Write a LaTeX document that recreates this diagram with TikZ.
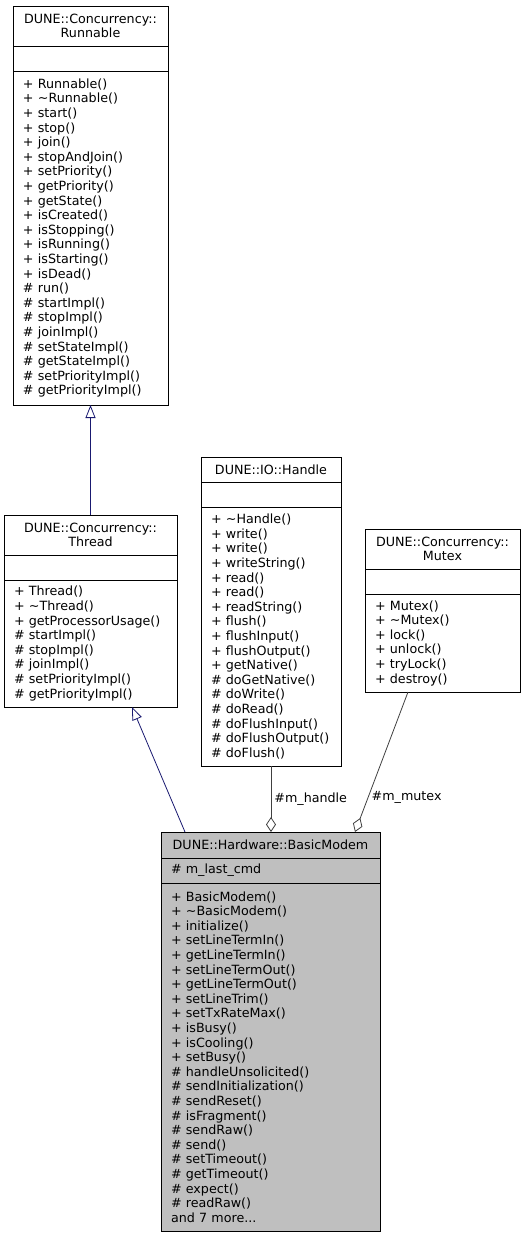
\documentclass[tikz,border=0pt]{standalone}
\usepackage{fontspec}
\setmainfont{DejaVu Sans}
\usetikzlibrary{arrows.meta,calc,positioning}
\definecolor{edgegray}{HTML}{404040}
\definecolor{inheritblue}{HTML}{191970}
\definecolor{modemgray}{HTML}{BFBFBF}

\begin{document}
\begin{tikzpicture}[x=1pt, y=-1pt, font=\fontsize{12.7}{14.6}\selectfont]
    \useasboundingbox (0,0) rectangle (524,1237);
    \tikzset{ClassBox/.style = {draw=black, line width=0.9pt,
        inner sep=0pt, outer sep=0pt, fill=white},
      ClassTitle/.style = {ClassBox, anchor=north, align=center},
      ClassAttr/.style = {ClassBox, minimum height=25},
      ClassOps/.style = {ClassBox, align=left, inner xsep=10pt},
      InheritEdge/.style = {draw=inheritblue, line width=0.8pt,
        -{Triangle[open, length=13pt, width=10pt]}},
      MemberEdge/.style = {draw=edgegray, line width=0.8pt,
        -{Diamond[open, length=15pt, width=10pt]}}}
    \node[ClassTitle, minimum width=155, minimum height=40] (runnable) at (90.5,6)
      {DUNE::Concurrency::\\Runnable};
    \node[ClassAttr, minimum width=155, below=0pt of runnable] (runnableattr) {};
    \node[ClassOps, text width=135, minimum height=334, below=0pt of runnableattr] (runnableops)
      {+~Runnable()\\+~\textasciitilde Runnable()\\+~start()\\+~stop()\\+~join()\\
       +~stopAndJoin()\\+~setPriority()\\+~getPriority()\\+~getState()\\+~isCreated()\\
       +~isStopping()\\+~isRunning()\\+~isStarting()\\+~isDead()\\\#~run()\\
       \#~startImpl()\\\#~stopImpl()\\\#~joinImpl()\\\#~setStateImpl()\\
       \#~getStateImpl()\\\#~setPriorityImpl()\\\#~getPriorityImpl()};
    \node[ClassTitle, minimum width=173, minimum height=40] (thread) at (90.5,515)
      {DUNE::Concurrency::\\Thread};
    \node[ClassAttr, minimum width=173, below=0pt of thread] (threadattr) {};
    \node[ClassOps, text width=153, minimum height=127, below=0pt of threadattr] (threadops)
      {+~Thread()\\+~\textasciitilde Thread()\\+~getProcessorUsage()\\\#~startImpl()\\
       \#~stopImpl()\\\#~joinImpl()\\\#~setPriorityImpl()\\\#~getPriorityImpl()};
    \node[ClassTitle, minimum width=140, minimum height=25] (handle) at (271,457)
      {DUNE::IO::Handle};
    \node[ClassAttr, minimum width=140, below=0pt of handle] (handleattr) {};
    \node[ClassOps, text width=120, minimum height=259, below=0pt of handleattr] (handleops)
      {+~\textasciitilde Handle()\\+~write()\\+~write()\\+~writeString()\\+~read()\\
       +~read()\\+~readString()\\+~flush()\\+~flushInput()\\+~flushOutput()\\
       +~getNative()\\\#~doGetNative()\\\#~doWrite()\\\#~doRead()\\
       \#~doFlushInput()\\\#~doFlushOutput()\\\#~doFlush()};
    \node[ClassTitle, minimum width=155, minimum height=40] (mutex) at (442.5,529)
      {DUNE::Concurrency::\\Mutex};
    \node[ClassAttr, minimum width=155, below=0pt of mutex] (mutexattr) {};
    \node[ClassOps, text width=135, minimum height=98, below=0pt of mutexattr] (mutexops)
      {+~Mutex()\\+~\textasciitilde Mutex()\\+~lock()\\+~unlock()\\+~tryLock()\\+~destroy()};
    \node[ClassTitle, fill=modemgray, minimum width=219, minimum height=26] (modem) at (270.5,832)
      {DUNE::Hardware::BasicModem};
    \node[ClassOps, fill=modemgray, text width=199, minimum height=25, below=0pt of modem] (modemattr)
      {\#~m\_last\_cmd};
    \node[ClassOps, fill=modemgray, text width=199, minimum height=348, below=0pt of modemattr] (modemops)
      {+~BasicModem()\\+~\textasciitilde BasicModem()\\+~initialize()\\+~setLineTermIn()\\
       +~getLineTermIn()\\+~setLineTermOut()\\+~getLineTermOut()\\+~setLineTrim()\\
       +~setTxRateMax()\\+~isBusy()\\+~isCooling()\\+~setBusy()\\
       \#~handleUnsolicited()\\\#~sendInitialization()\\\#~sendReset()\\
       \#~isFragment()\\\#~sendRaw()\\\#~send()\\\#~setTimeout()\\\#~getTimeout()\\
       \#~expect()\\\#~readRaw()\\and 7 more...};
    \draw[InheritEdge] (thread.north) -- (runnableops.south);
    \draw[InheritEdge] ([xshift=-85.5]modem.north) -- ([xshift=41.5]threadops.south);
    \draw[MemberEdge] (handleops.south) -- node[midway, right, inner sep=3pt] {\#m\_handle}
      (handleops.south |- modem.north);
    \draw[MemberEdge] ([xshift=-34.5]mutexops.south) -- node[pos=0.75, right, inner sep=3pt] {\#m\_mutex}
      ([xshift=84.5]modem.north);
  \end{tikzpicture}
\end{document}
